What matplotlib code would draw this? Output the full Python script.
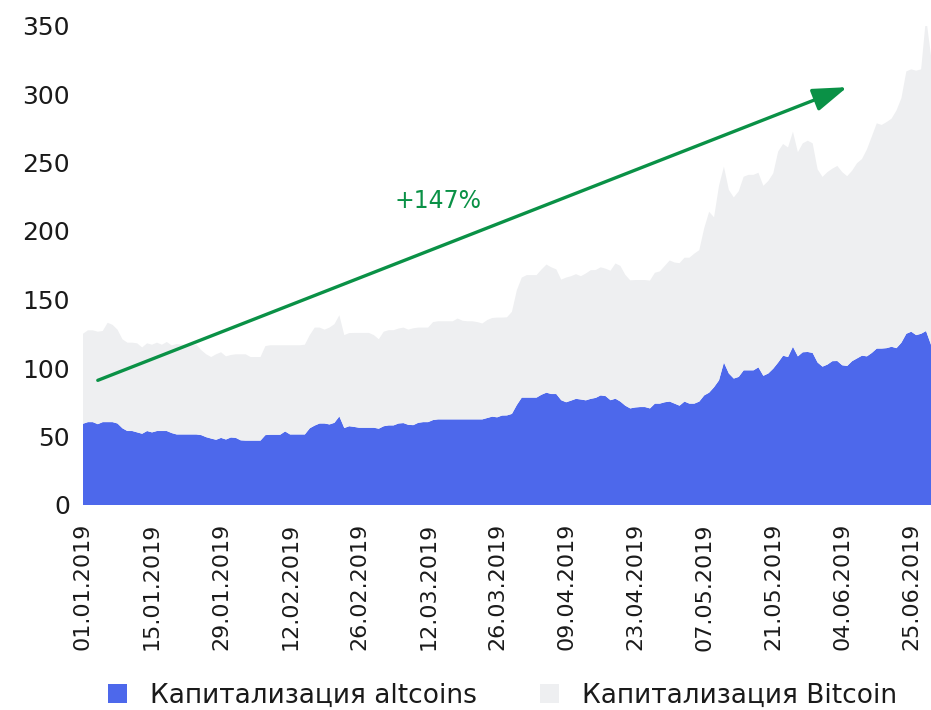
import matplotlib
matplotlib.use("Agg")
import matplotlib.pyplot as plt
from matplotlib.patches import Patch
import numpy as np

plt.rcParams['font.family'] = ['DejaVu Sans']

# ---- data (index = trading day, tick labels every 14 points) ----
tick_labels = ["01.01.2019", "15.01.2019", "29.01.2019", "12.02.2019", "26.02.2019",
               "12.03.2019", "26.03.2019", "09.04.2019", "23.04.2019", "07.05.2019",
               "21.05.2019", "04.06.2019", "25.06.2019"]

altcoins_cap = [
    59.3, 60.5, 60.5, 59, 60.5, 60.5, 60.5, 59.5, 56, 54,
    54, 53, 52, 54, 53, 54, 54, 54, 52.5, 51.5,
    51.5, 51.5, 51.5, 51.5, 51, 49.5, 48.5, 47.6, 49, 47.8,
    49.3, 49, 47.2, 47, 47, 47, 47, 51, 51.3, 51.3,
    51.3, 53.7, 51.5, 51.5, 51.5, 51.5, 56, 58, 59.5, 59.5,
    58.8, 60, 64.7, 56.2, 57.5, 57, 56.4, 56.4, 56.4, 56.4,
    55.7, 57.5, 58.1, 58.1, 59.5, 59.8, 58.5, 58.3, 60, 60.5,
    60.5, 62, 62.5, 62.5, 62.5, 62.5, 62.5, 62.5, 62.5, 62.5,
    62.5, 62.5, 63.5, 64.5, 64, 65.3, 65.4, 66.5, 73, 78.4,
    78.4, 78.4, 78.4, 80.5, 82, 81, 81, 76.5, 75, 76.2,
    77.5, 77, 76.4, 77.5, 78.2, 80, 79.5, 76.5, 77.6, 75.5,
    72.5, 70.5, 71.2, 71.5, 71.5, 70.5, 74, 74, 75, 75.5,
    74, 72.5, 75.5, 74, 74, 75.5, 80, 82, 86, 91,
    104, 96, 92.3, 93.5, 98.3, 98.3, 98.3, 100.5, 94.3, 96,
    99.5, 104, 109, 108, 115.5, 108.5, 111.5, 111.7, 111, 104,
    101, 102.5, 105, 105.1, 102, 101.5, 105, 107, 109, 108.5,
    111, 114.2, 114.2, 114.5, 115.5, 114.5, 118.5, 125, 126.5, 124,
    125, 127, 117,
]

total_cap = [
    125, 127.5, 127.5, 126.5, 127, 133, 131.5, 128, 121, 118.5,
    118.5, 118, 115, 118, 117, 118.5, 117, 119, 116.5, 117.5,
    117, 117, 117, 117, 113, 110, 108, 110, 111.5, 108.5,
    109.5, 110, 110, 110, 108, 108, 108, 116, 116.6, 116.6,
    116.6, 116.6, 116.6, 116.6, 116.6, 117, 124, 129.5, 129.5, 128,
    129.5, 132, 138.5, 124, 125.5, 125.6, 125.6, 125.6, 125.6, 124,
    121, 126.5, 127.6, 127.6, 128.8, 129.5, 128, 129, 129.5, 129.5,
    129.5, 133.5, 134.1, 134.1, 134.1, 134.1, 136.1, 134.5, 134.1, 134.1,
    133.5, 132.5, 135, 136.5, 136.8, 136.8, 137, 141, 156.8, 166,
    167.8, 167.8, 167.8, 171.9, 175.5, 173.5, 172, 164.5, 166, 167,
    168.5, 167, 169, 171.4, 171.5, 173.5, 172.5, 171, 176.3, 174.5,
    168, 164, 164.2, 164.2, 164.2, 163.8, 169.5, 170.5, 174.5, 178.5,
    177, 176.5, 180.5, 180.5, 183.5, 186, 202, 214, 210, 233,
    247, 230, 224.5, 229, 239.6, 241, 241, 242.5, 233, 236.5,
    242, 258, 263.5, 261, 272.5, 257.5, 264, 265.9, 264, 245,
    239.5, 243, 245.5, 247.5, 243, 240, 244, 249.5, 252.5, 259.5,
    269, 278.6, 277.4, 279.5, 282, 288, 297, 316.5, 318, 317,
    318, 356, 328,
]

series_names = ["Капитализация altcoins", "Капитализация Bitcoin"]
growth_label = "+147%"

# ---- styling ----
BLUE = "#4d68eb"
GRAY = "#eeeff1"
GREEN = "#0a9146"
TEXT = "#1a1a1a"

x = np.arange(len(altcoins_cap))
alt = np.array(altcoins_cap)
btc = np.array(total_cap) - alt

fig = plt.figure(figsize=(9.31, 7.10), dpi=100)
ax = fig.add_axes([83 / 931, 1 - 505 / 710, 1 - 83 / 931, (505 - 25.5) / 710])

ax.stackplot(x, alt, btc, colors=[BLUE, GRAY], linewidth=0, edgecolor='none',
             antialiased=True)

ax.set_xlim(0, len(x) - 1)
ax.set_ylim(0, 350)
ax.set_yticks(np.arange(0, 351, 50))
ax.set_xticks(np.arange(0, 14 * len(tick_labels), 14))
ax.set_xticklabels(tick_labels, rotation=90)

for s in ax.spines.values():
    s.set_visible(False)
ax.tick_params(axis='y', length=0, labelsize=18, pad=9.5, colors=TEXT)
ax.tick_params(axis='x', length=0, labelsize=16, pad=13, colors=TEXT)

# growth arrow
ax.annotate("", xy=(155, 305), xytext=(3, 91),
            arrowprops=dict(arrowstyle="-|>,head_length=0.95,head_width=0.32",
                            color=GREEN, lw=2.4, mutation_scale=22,
                            shrinkA=0, shrinkB=0))
ax.text(72, 222, growth_label, color=GREEN, fontsize=17, ha='center', va='center')

handles = [Patch(facecolor=BLUE, edgecolor='none'), Patch(facecolor=GRAY, edgecolor='none')]
fig.legend(handles, series_names, loc='center', bbox_to_anchor=(0.5397, 0.02),
           ncol=2, frameon=False, fontsize=19, handlelength=0.72, handleheight=0.72,
           handletextpad=0.87, columnspacing=2.4, labelcolor=TEXT,
           borderpad=0.0, borderaxespad=0.0)

fig.savefig("out.png", dpi=100)
